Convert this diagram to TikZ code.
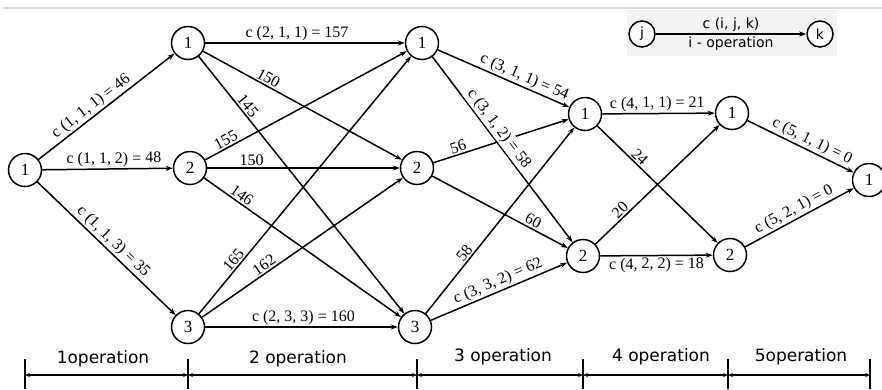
\documentclass[tikz,border=0pt]{standalone}
\usepackage{fontspec}
\setmainfont{Liberation Serif}
\newfontfamily\opfont{DejaVu Sans}
\usetikzlibrary{arrows.meta}

\begin{document}
\begin{tikzpicture}[x=1pt,y=-1pt,
  vertex/.style={circle,draw,line width=1.5pt,fill=white,minimum size=33pt,inner sep=0pt,
                 font=\fontsize{17}{17}\selectfont},
  legvertex/.style={circle,draw,line width=1.5pt,fill=white,minimum size=26pt,inner sep=0pt,
                 font=\opfont\fontsize{14}{14}\selectfont},
  edge/.style={line width=1.5pt,-{Stealth[length=7pt,width=5pt]}},
  lab/.style={font=\fontsize{16}{16}\selectfont,inner sep=1.5pt,sloped},
  leglab/.style={font=\opfont\fontsize{14}{14}\selectfont,inner sep=2pt},
  oplab/.style={font=\opfont\fontsize{17}{17}\selectfont,inner sep=0pt},
  tick/.style={line width=1.5pt},
  span/.style={line width=1.3pt,{Stealth[length=5pt,width=4pt]}-{Stealth[length=5pt,width=4pt]}},
  ]
\useasboundingbox (0,0) rectangle (882,389);
\clip (0,0) rectangle (882,389);

% page rule at the top
\draw[gray!30,line width=1.5pt] (3,8) -- (882,8);

% legend
\fill[gray!10] (627,10) rectangle (837,56);
\node[legvertex] (lj) at (642,34) {j};
\node[legvertex] (lk) at (820,34) {k};
\draw[edge] (lj) -- (lk)
  node[leglab,midway,above] {c (i, j, k)}
  node[leglab,midway,below] {i - operation};

% states of each stage
\node[vertex] (a1) at (25,170) {1};
\node[vertex] (b1) at (188,43) {1};
\node[vertex] (b2) at (190,168) {2};
\node[vertex] (b3) at (188,327) {3};
\node[vertex] (c1) at (422,43) {1};
\node[vertex] (c2) at (417,168) {2};
\node[vertex] (c3) at (415,327) {3};
\node[vertex] (d1) at (585,114) {1};
\node[vertex] (d2) at (583,256) {2};
\node[vertex] (e1) at (732,113) {1};
\node[vertex] (e2) at (730,255) {2};
\node[vertex] (f1) at (869,180) {1};

% operation 1
\draw[edge] (a1) -- (b1) node[lab,above,pos=0.43] {c (1, 1, 1) = 46};
\draw[edge] (a1) -- (b2) node[lab,above,pos=0.55] {c (1, 1, 2) = 48};
\draw[edge] (a1) -- (b3) node[lab,above,pos=0.50] {c (1, 1, 3) = 35};

% operation 2
\draw[edge] (b1) -- (c1) node[lab,above,pos=0.46] {c (2, 1, 1) = 157};
\draw[edge] (b1) -- (c2) node[lab,above,pos=0.31] {150};
\draw[edge] (b1) -- (c3) node[lab,above,pos=0.21] {145};
\draw[edge] (b2) -- (c1) node[lab,above,pos=0.12] {155};
\draw[edge] (b2) -- (c2) node[lab,above,pos=0.23] {150};
\draw[edge] (b2) -- (c3) node[lab,above,pos=0.17] {146};
\draw[edge] (b3) -- (c1) node[lab,above,pos=0.19] {165};
\draw[edge] (b3) -- (c2) node[lab,above,pos=0.33] {162};
\draw[edge] (b3) -- (c3) node[lab,above,pos=0.51] {c (2, 3, 3) = 160};

% operation 3
\draw[edge] (c2) -- (d1) node[lab,above,pos=0.20] {56};
\draw[edge] (c1) -- (d1) node[lab,above,pos=0.63] {c (3, 1, 1) = 54};
\draw[edge] (c1) -- (d2) node[lab,above,pos=0.42,fill=white] {c (3, 1, 2) = 58};
\draw[edge] (c2) -- (d2) node[lab,above,pos=0.72] {60};
\draw[edge] (c3) -- (d1) node[lab,above,pos=0.30] {58};
\draw[edge] (c3) -- (d2) node[lab,above,pos=0.52] {c (3, 3, 2) = 62};

% operation 4
\draw[edge] (d1) -- (e1) node[lab,above,pos=0.49] {c (4, 1, 1) = 21};
\draw[edge] (d1) -- (e2) node[lab,above,pos=0.31] {24};
\draw[edge] (d2) -- (e1) node[lab,above,pos=0.24] {20};
\draw[edge] (d2) -- (e2) node[lab,below,pos=0.50] {c (4, 2, 2) = 18};

% operation 5
\draw[edge] (e1) -- (f1) node[lab,above,pos=0.57] {c (5, 1, 1) = 0};
\draw[edge] (e2) -- (f1) node[lab,above,pos=0.49] {c (5, 2, 1) = 0};

% operation spans along the bottom
\coordinate (t0) at (25,375);
\coordinate (t1) at (188,375);
\coordinate (t2) at (417,375);
\coordinate (t3) at (583,375);
\coordinate (t4) at (728,375);
\coordinate (t5) at (870,375);
\draw[tick] (25,359) -- (25,389);
\draw[tick] (188,359) -- (188,389);
\draw[tick] (417,359) -- (417,389);
\draw[tick] (583,359) -- (583,389);
\draw[tick] (728,359) -- (728,389);
\draw[tick] (870,359) -- (870,389);
\draw[span] (t0) -- (t1);
\draw[span] (t1) -- (t2);
\draw[span] (t2) -- (t3);
\draw[span] (t3) -- (t4);
\draw[span] (t4) -- (t5);
\node[oplab] (op1) at (103,359) {1operation};
\node[oplab] (op2) at (298,359) {2 operation};
\node[oplab] (op3) at (503,357) {3 operation};
\node[oplab] (op4) at (661,357) {4 operation};
\node[oplab] (op5) at (801,357) {5operation};
\end{tikzpicture}
\end{document}
